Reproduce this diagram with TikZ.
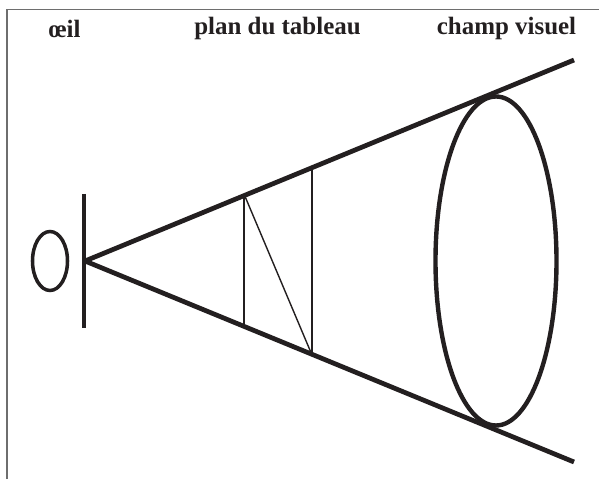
\documentclass[tikz,border=0pt]{standalone}
\usepackage{xcolor}
\usepackage{fontspec}
\setmainfont{Liberation Serif}
\usetikzlibrary{shapes.geometric, calc}
\definecolor{ink-dark}{RGB}{35,31,32}
\definecolor{frame-gray}{RGB}{110,110,110}

\begin{document}
\begin{tikzpicture}[
  label/.style={font=\fontsize{14.2}{17}\selectfont\bfseries, text=ink-dark, inner sep=0pt},
  heavy/.style={ink-dark, line width=2.7pt, line join=round},
  fine/.style={ink-dark, line width=0.8pt},
  round/.style={draw=ink-dark, shape=ellipse, inner sep=0pt, fill=none},
]
  \useasboundingbox (0,0) rectangle (11.98,9.58);

  \coordinate (frameb) at (0.14,0);
  \coordinate (framec) at (0.14,9.39);
  \coordinate (framer) at (11.98,9.39);
  \draw[frame-gray, line width=0.7pt] (frameb) -- (framec) -- (framer);

  \node[label] (oeil) at (1.29,9.00) {œil};
  \node[label] (plan) at (5.55,9.00) {plan du tableau};
  \node[label] (champ) at (10.13,9.00) {champ visuel};

  \coordinate (apex) at (1.70,4.36);
  \coordinate (bartop) at (1.68,5.70);
  \coordinate (barbot) at (1.68,3.02);
  \coordinate (raytop) at (11.48,8.38);
  \coordinate (raybot) at (11.48,0.34);
  \coordinate (pa) at (4.88,5.70);
  \coordinate (pb) at (4.88,3.04);
  \coordinate (pc) at (6.24,6.24);
  \coordinate (pd) at (6.24,2.48);

  \node[round, line width=2pt, minimum width=0.70cm, minimum height=1.18cm] (eye) at (1.00,4.36) {};
  \node[round, line width=2.5pt, minimum width=2.42cm, minimum height=6.58cm] (field) at (9.92,4.36) {};

  \draw[heavy] (bartop) -- (barbot);
  \draw[heavy] (raytop) -- (apex) -- (raybot);
  \draw[fine] (pa) -- (pb);
  \draw[fine] (pc) -- (pd);
  \draw[fine] (pa) -- (pd);
\end{tikzpicture}
\end{document}
